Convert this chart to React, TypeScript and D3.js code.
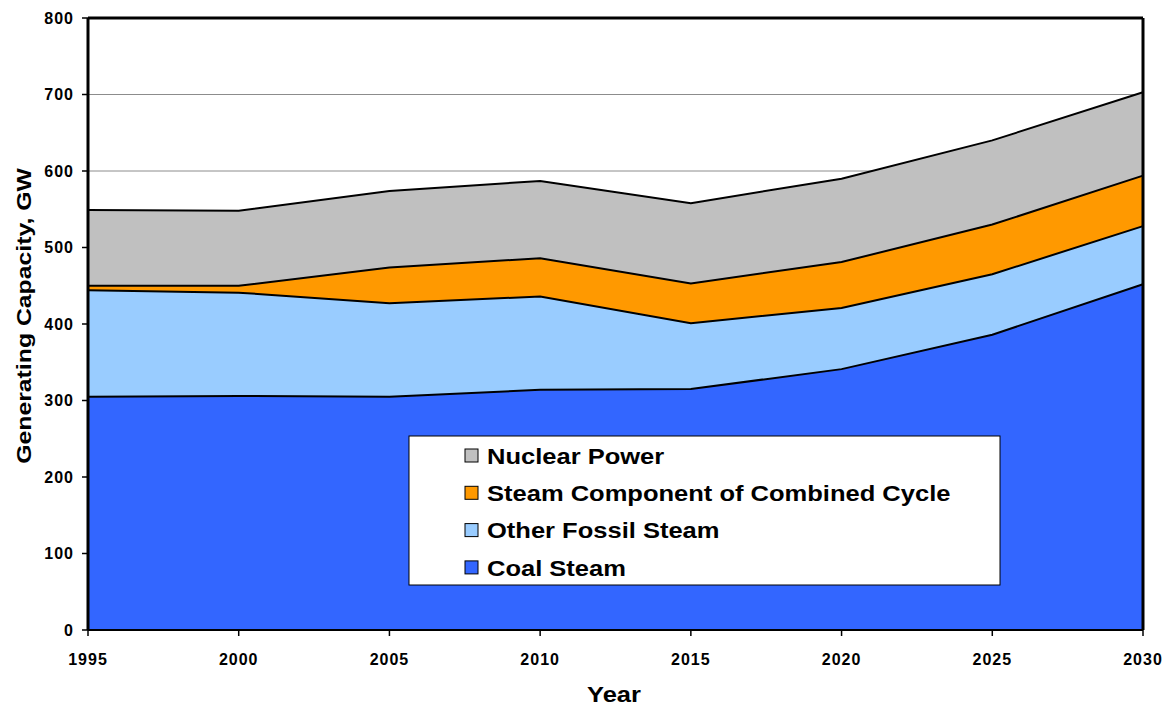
import * as d3 from "d3";

const WIDTH = 1167;
const HEIGHT = 706;
const MARGIN = { top: 18, right: 24, bottom: 76, left: 88 };

const years = [1995, 2000, 2005, 2010, 2015, 2020, 2025, 2030];
const coalSteam = [305, 306, 305, 314, 315, 341, 386, 452];
const otherFossil = [139, 135, 122, 122, 86, 80, 79, 76];
const steamCombined = [6, 9, 47, 50, 52, 60, 65, 66];
const nuclear = [99, 98, 100, 101, 105, 109, 110, 109];

const seriesNames = [
  "Coal Steam",
  "Other Fossil Steam",
  "Steam Component of Combined Cycle",
  "Nuclear Power",
];
const seriesColors = ["#3366FF", "#99CCFF", "#FF9900", "#C0C0C0"];
const yTicks = [0, 100, 200, 300, 400, 500, 600, 700, 800];

const FONT = "'Liberation Sans', Arial, sans-serif";
// the original lettering is a little wider than Arial
const STRETCH = 1.16;

export default function App() {
  const innerW = WIDTH - MARGIN.left - MARGIN.right;
  const innerH = HEIGHT - MARGIN.top - MARGIN.bottom;

  const x = d3.scaleLinear().domain([1995, 2030]).range([0, innerW]);
  const y = d3.scaleLinear().domain([0, 800]).range([innerH, 0]);

  const rows = years.map((yr, i) => ({
    year: yr,
    s0: coalSteam[i],
    s1: otherFossil[i],
    s2: steamCombined[i],
    s3: nuclear[i],
  }));
  const stacked = d3.stack<any>().keys(["s0", "s1", "s2", "s3"])(rows);

  const area = d3
    .area<any>()
    .x((d) => x(d.data.year))
    .y0((d) => y(d[0]))
    .y1((d) => y(d[1]));
  const topLine = d3
    .line<any>()
    .x((d) => x(d.data.year))
    .y((d) => y(d[1]));

  // legend, drawn top to bottom in reverse stack order
  const legendOrder = [3, 2, 1, 0];
  const legend = { x: 409, y: 436, w: 591, h: 149 };

  return (
    <svg
      width={WIDTH}
      height={HEIGHT}
      style={{ position: "absolute", left: 0, top: 0, background: "#fff" }}
      fontFamily={FONT}
    >
      <g transform={`translate(${MARGIN.left},${MARGIN.top})`}>
        {/* gridlines */}
        {yTicks.map((t) => (
          <line
            key={t}
            x1={0}
            x2={innerW}
            y1={y(t)}
            y2={y(t)}
            stroke="#8c8c8c"
            strokeWidth={1}
          />
        ))}

        {/* stacked areas */}
        {stacked.map((s, i) => (
          <path key={i} d={area(s) || ""} fill={seriesColors[i]} />
        ))}
        {stacked.map((s, i) => (
          <path
            key={`l${i}`}
            d={topLine(s) || ""}
            fill="none"
            stroke="#000"
            strokeWidth={2}
          />
        ))}

        {/* frame */}
        <line x1={0} x2={innerW} y1={0} y2={0} stroke="#000" strokeWidth={3} />
        <line x1={innerW} x2={innerW} y1={0} y2={innerH} stroke="#000" strokeWidth={3} />
        <line x1={0} x2={0} y1={0} y2={innerH} stroke="#000" strokeWidth={3} />
        <line x1={0} x2={innerW} y1={innerH} y2={innerH} stroke="#000" strokeWidth={2} />

        {/* y axis ticks */}
        {yTicks.map((t) => (
          <g key={t} transform={`translate(0,${y(t)})`}>
            <line x1={-6} x2={0} stroke="#000" strokeWidth={1.5} />
            <text
              x={-14}
              dy="0.35em"
              textAnchor="end"
              fontSize={16}
              fontWeight="bold"
              letterSpacing={1}
            >
              {t}
            </text>
          </g>
        ))}

        {/* x axis ticks */}
        {years.map((yr) => (
          <g key={yr} transform={`translate(${x(yr)},${innerH})`}>
            <line y1={0} y2={6} stroke="#000" strokeWidth={1.5} />
            <text
              y={35}
              textAnchor="middle"
              fontSize={16}
              fontWeight="bold"
              letterSpacing={1}
            >
              {yr}
            </text>
          </g>
        ))}
      </g>

      {/* axis titles */}
      <g transform={`translate(614,702) scale(${STRETCH},1)`}>
        <text textAnchor="middle" fontSize={22} fontWeight="bold">
          Year
        </text>
      </g>
      <g transform={`translate(31,316) rotate(-90) scale(1.24,1)`}>
        <text textAnchor="middle" fontSize={20} fontWeight="bold">
          Generating Capacity, GW
        </text>
      </g>

      {/* legend */}
      <rect
        x={legend.x}
        y={legend.y}
        width={legend.w}
        height={legend.h}
        fill="#fff"
        stroke="#000"
        strokeWidth={1}
      />
      {legendOrder.map((si, i) => {
        const cy = legend.y + 20 + i * 37.3;
        return (
          <g key={si}>
            <rect
              x={465}
              y={cy - 7}
              width={13}
              height={13}
              fill={seriesColors[si]}
              stroke="#000"
              strokeWidth={1}
            />
            <g transform={`translate(487,${cy}) scale(${STRETCH},1)`}>
              <text dy="0.35em" fontSize={22} fontWeight="bold">
                {seriesNames[si]}
              </text>
            </g>
          </g>
        );
      })}
    </svg>
  );
}
